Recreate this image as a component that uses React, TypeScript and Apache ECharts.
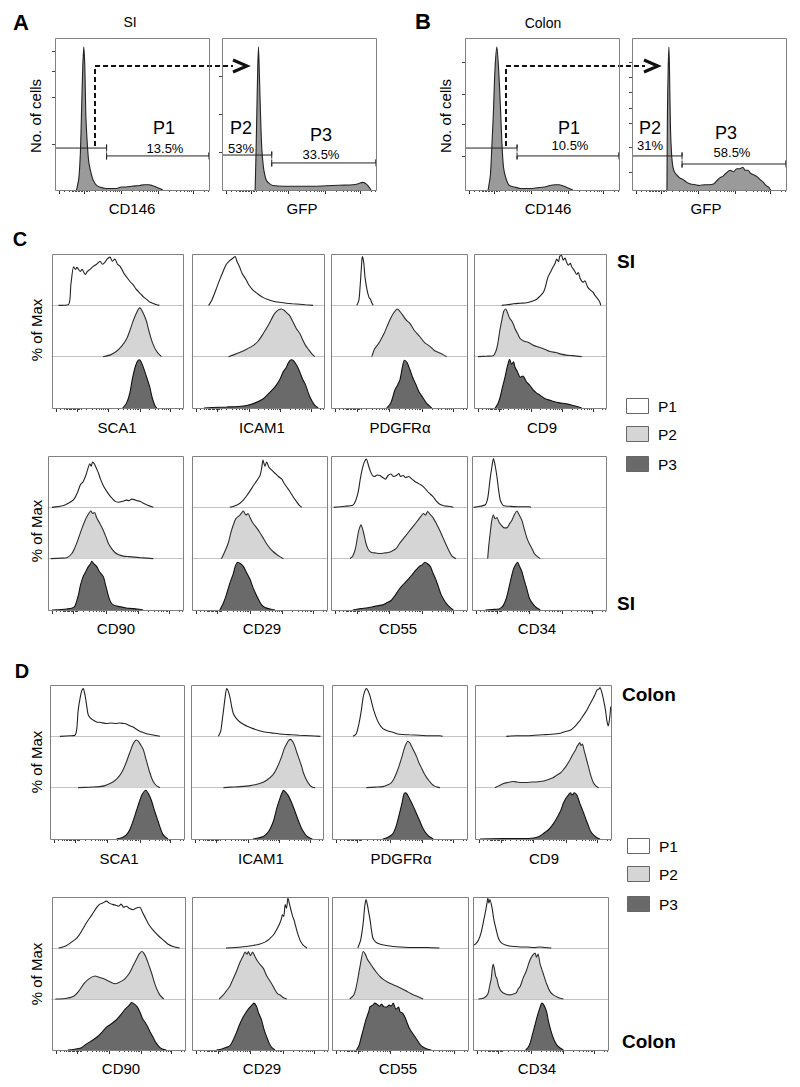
import React, { useEffect, useRef } from "react";
import * as echarts from "echarts";

type Pt = [number, number];

// ---------- Panel A / B histograms (x: % of axis, y: % of max count) ----------
const siCD146: Pt[] = [[14,0],[15.5,8],[16.5,25],[17.2,50],[18,80],[18.7,94],[19.4,80],[20,50],[21,30],[22,18],[23.7,10],[25,6],[27,3],[29,2],[33,1],[40,1],[43,2],[46,2],[50,2.5],[55,3],[58,3.5],[61,3.5],[63,3],[65.6,2],[68,1],[70,0]];
const siGFP: Pt[] = [[21.5,0],[22,20],[22.6,50],[23.2,80],[23.7,94],[24.3,75],[25,50],[25.8,28],[26.9,15],[28,9],[29,6],[31,4],[33,3],[40,2.5],[50,2.5],[60,2.5],[72,3],[80,3.2],[85,3.5],[88,4],[91.4,5],[93,4.5],[94.6,3],[96.8,0]];
const colonCD146: Pt[] = [[15,0],[16.5,10],[17.5,30],[18.4,50],[19.5,80],[20.7,94],[21.8,80],[23,55],[24,30],[25,15],[26.5,8],[28.7,3],[32,2],[36,1],[42.5,1],[47,1.5],[51.7,2],[55,3],[58.6,3.5],[61,3.5],[63,3],[65.5,2],[67.8,1],[70,0]];
const colonGFP: Pt[] = [[22.7,0],[23,50],[23.5,80],[24,94],[24.5,70],[25,40],[25.8,22],[26.6,15],[27.5,12],[29,10],[31,8],[33,7],[35.6,5],[38,4],[41,3.5],[44,3],[47,3.5],[50,3.5],[53,4],[55,6],[57,8],[59,9],[61,11],[63.7,13],[66,12],[68,14],[70,14],[72,15],[73.5,13],[75.4,13],[77,11],[79,10],[81,9],[83,7],[85.3,5],[87,3],[88.6,2],[90,0]];

// gates: [from %, to %, height %]
const gatesSiCD146 = [[0, 33.5, 27.6], [33.5, 100, 22.4]];
const gatesSiGFP = [[0, 32.3, 23], [32.3, 100, 17.8]];
const gatesColonCD146 = [[0, 33.8, 27.6], [33.8, 100, 22.4]];
const gatesColonGFP = [[0, 32.5, 22.4], [32.5, 100, 17.1]];

const yTicksA1 = [30, 61, 78, 91];
const yTicksA2 = [25, 50, 75];
const yTicksB1 = [22, 43, 63, 84];
const yTicksB2 = [12, 28, 44, 54, 64, 74, 84];

// ---------- Panel C (SI) ----------
const siSCA1P1: Pt[] = [[5,0],[12.7,2],[14.4,40],[16.5,75],[18,70],[19,74],[21.5,66],[23,70],[25.3,60],[27,66],[29,70],[31,75],[34,80],[36.7,86],[38.5,80],[40.5,84],[42,90],[44.3,94],[46,86],[48,90],[50,80],[52,76],[55,62],[57,55],[60,45],[62,40],[64,32],[67,24],[70,16],[72,12],[75,6],[77,4],[80,1],[82,0]];
const siSCA1P2: Pt[] = [[39,0],[45,4],[49,10],[53,20],[57,35],[60,55],[62,70],[65,88],[67,95],[69,88],[72,70],[74,50],[77,25],[80,10],[83.5,0]];
const siSCA1P3: Pt[] = [[54,0],[57,10],[59.5,30],[61,52],[63,75],[65,90],[66.6,94],[68,90],[69.6,80],[72,62],[74.7,40],[76.5,20],[78.5,5],[80,0]];
const siICAM1P1: Pt[] = [[12.6,0],[15,10],[18.8,35],[21,50],[23.9,68],[26,80],[29,88],[31,92],[32.7,95],[34,86],[36,75],[38,62],[41,50],[43,40],[46,30],[50,22],[54,15],[58,11],[61.6,8],[66,6],[71.6,4],[76,3],[81.7,2],[86,1],[91.7,0]];
const siICAM1P2: Pt[] = [[27.6,0],[32,4],[36,8],[41,14],[46.5,22],[50,30],[54,45],[58,62],[61.6,80],[64,88],[66,92],[67.8,93],[70,90],[72,85],[74,80],[77,65],[79,55],[81.7,45],[84,32],[86,22],[88,15],[91,5],[93,0]];
const siICAM1P3: Pt[] = [[9,0],[15,1],[26,2],[35,3],[41.5,5],[48,10],[54,18],[58,28],[61,36],[64,45],[67,58],[69,70],[71.6,80],[73,88],[75,94],[77,92],[80,80],[82,68],[84,55],[86,45],[88,30],[90,18],[91.7,10],[93.5,4],[95.5,0]];
const siPDGFRaP1: Pt[] = [[19,0],[20.5,10],[21.5,40],[22.5,80],[23,95],[24,85],[25,55],[26.5,30],[28,15],[29,12],[30,5],[31,0]];
const siPDGFRaP2: Pt[] = [[30,0],[32,15],[34,22],[36,30],[39,45],[43,70],[46,85],[49,93],[50.7,88],[53,80],[55,72],[58,65],[61,52],[65,40],[69,27],[72.8,20],[76,12],[80,7],[83,3],[85,0]];
const siPDGFRaP3: Pt[] = [[41,0],[44,10],[47,35],[49,45],[50.7,55],[52.5,80],[54,93],[56,88],[58,75],[60,60],[63,42],[65,30],[67.6,20],[70,10],[72,5],[74,0]];
const siCD9P1: Pt[] = [[21,0],[25,1],[30,3],[35,4],[40,5],[44,8],[47.5,12],[50,18],[52.5,25],[54,35],[56,55],[58,65],[60,75],[61.5,82],[62.6,90],[64,85],[65,96],[66.4,97],[67.5,88],[69,92],[70,85],[71.5,78],[73,82],[74,75],[76,68],[77.8,60],[79,64],[80.5,52],[82.8,45],[84,48],[86,36],[88,30],[90,26],[91.5,20],[93,15],[94.5,10],[95.5,5],[96,0]];
const siCD9P2: Pt[] = [[3,0],[10,1],[14.6,2],[16.5,10],[18,25],[19.5,50],[21,70],[22.5,88],[24,93],[25.5,85],[27,75],[28.5,70],[30,62],[31,55],[33,45],[35,35],[38,30],[41,28],[45,22],[50,18],[54,14],[57.6,10],[62,8],[66,5],[70,3],[75,2],[81.6,0]];
const siCD9P3: Pt[] = [[16,0],[18,8],[19.7,20],[21.5,40],[23.5,60],[25,78],[26,88],[27,95],[28.5,85],[30,90],[31,80],[33,70],[35,60],[37,62],[40,50],[42,45],[45,35],[47,30],[50,25],[54,18],[57.6,15],[61,12],[65,10],[70,8],[75,5],[78,3],[81.6,0]];
const siCD90P1: Pt[] = [[3,0],[11,3],[15,8],[19,15],[22,30],[24,44],[26,50],[28,62],[29.5,75],[31,85],[32,80],[33,88],[34.5,84],[36,75],[37.5,66],[38.6,57],[41,42],[43.5,31],[46,22],[49.6,12],[52,10],[55.8,12],[58,14],[60,13],[62,16],[64,15],[66,13],[68,12],[70,9],[73,5],[76,2],[78,0]];
const siCD90P2: Pt[] = [[2,0],[10,1],[14,2],[17.7,10],[20,22],[22.6,40],[25,58],[27.5,75],[29.5,85],[31.7,93],[33,88],[34.5,90],[36,80],[38.5,68],[41,55],[43,42],[44.7,30],[47,20],[49.6,12],[52,8],[55.8,5],[60,4],[64,3],[68,2],[73,1],[78,0]];
const siCD90P3: Pt[] = [[3,0],[10,1],[14,2],[18,4],[20,8],[22.6,30],[24,48],[26,65],[28,75],[30,85],[31.5,90],[32.4,95],[34,90],[36,85],[38,75],[41,65],[42.5,50],[43.5,40],[45,25],[46.5,15],[48.4,10],[52,7],[58,4],[62,3],[66,2],[70.5,0]];
const siCD29P1: Pt[] = [[28,0],[32,3],[35.5,8],[38,14],[40.4,22],[43,32],[45.4,42],[48,52],[50.4,62],[51.5,75],[52.6,92],[54,80],[55.3,88],[57,78],[58.5,74],[60,70],[62,65],[64,60],[66.5,55],[68,48],[70,40],[72.7,30],[75,20],[77.7,10],[79.5,4],[81.4,0]];
const siCD29P2: Pt[] = [[21.8,0],[24,12],[26.8,30],[28.5,48],[30.5,65],[32.5,78],[35.5,85],[37,90],[38,93],[40,85],[41.5,88],[43,80],[45,70],[47.9,60],[50,52],[52.8,40],[55,30],[57.8,20],[60,14],[62.8,8],[65,4],[67.7,0]];
const siCD29P3: Pt[] = [[20.6,0],[23,12],[25.5,30],[28,52],[30.5,70],[32,85],[34,93],[36,90],[38,85],[40,75],[43,60],[45,45],[46.6,35],[49,22],[51.6,10],[54,5],[57.8,2],[61.5,0]];
const siCD55P1: Pt[] = [[2,0],[10,2],[16,4],[18,12],[20,30],[21.5,55],[23,75],[24.5,88],[26,94],[27.5,82],[29,70],[30.5,62],[32,60],[34,63],[36,62],[38,58],[40,55],[42,62],[44,65],[46,60],[48,62],[50,66],[51,60],[53,62],[55,58],[57,60],[60,54],[62,50],[64,47],[66,44],[68,40],[70,34],[72,28],[75,21],[77.5,12],[80,6],[83,3],[86,2],[90,0]];
const siCD55P2: Pt[] = [[14,0],[16,5],[18,20],[20,50],[21,60],[22,66],[23,60],[24,50],[25.5,32],[27,20],[28.5,14],[30,12],[33,11],[36,10],[39,11],[42,12],[45,15],[48,20],[50,28],[52,35],[55,45],[58,55],[61,65],[64,75],[66,82],[68,88],[69.5,85],[71,92],[73,86],[75,80],[77.5,68],[80,55],[82.5,40],[85,25],[87,14],[89,5],[92,0]];
const siCD55P3: Pt[] = [[16,0],[22,3],[26,4],[30,6],[34,8],[38,10],[41,14],[44,18],[47,28],[50,40],[52.5,48],[55,55],[57.5,62],[60,70],[62.5,78],[65,85],[67,88],[69,93],[71,90],[73,85],[75,72],[77,60],[79,45],[81,30],[83,20],[85,12],[87.5,5],[90,0]];
const siCD34P1: Pt[] = [[1.2,0],[6,2],[10,5],[11.5,15],[12.4,30],[13.5,55],[14.9,80],[16,95],[17,85],[18.6,60],[19.8,35],[21,15],[22.3,7],[23.6,3],[28,2],[35,1],[43,1],[44,0]];
const siCD34P2: Pt[] = [[11.7,0],[12.5,25],[13.6,50],[14.8,75],[16,85],[17.2,78],[18.6,80],[20,72],[22,65],[24,60],[26,60],[28,68],[29.8,75],[31.5,85],[33.5,93],[35.3,85],[37.2,75],[39,58],[41,40],[43,28],[44.7,20],[46.5,10],[48.4,5],[51,0]];
const siCD34P3: Pt[] = [[10,0],[15,1],[20,2],[22,5],[23.6,10],[25.5,22],[27.3,40],[29,60],[31,80],[32.5,88],[34,93],[35.5,85],[37.2,75],[39,58],[41,40],[43,22],[46,10],[48.5,4],[51,0]];

// ---------- Panel D (Colon) ----------
const coSCA1P1: Pt[] = [[7.4,0],[15,1],[18.6,2],[20,15],[21,50],[22.3,72],[23.6,88],[24.8,93],[26,82],[26.8,70],[27.8,52],[28.5,42],[30,36],[32,32],[34.7,28],[38,27],[42,25],[46,26],[49,25],[52,26],[55,25],[57,24],[60,20],[62,18],[65,13],[67,10],[70,7],[72,5],[76,3],[82,0]];
const coSCA1P2: Pt[] = [[21,0],[30,1],[37,2],[41,4],[44.7,8],[48,13],[50.9,20],[54,32],[57,50],[59.5,68],[62,85],[63.5,91],[64.5,93],[66,90],[67.5,84],[69.5,75],[72,52],[74.4,30],[76,18],[78,8],[80,3],[82,0]];
const coSCA1P3: Pt[] = [[49.6,0],[54,3],[57,8],[59.5,18],[62,35],[64.5,55],[67,75],[69,88],[71.5,95],[73.5,88],[75.7,75],[78,55],[80.6,35],[82.5,20],[84,10],[86,4],[88,0]];
const coICAM1P1: Pt[] = [[20.8,0],[22.5,10],[23.6,30],[24.6,50],[25.8,75],[27,93],[28.2,88],[29.6,75],[30.8,58],[32,45],[34,36],[37,28],[40,23],[43,19],[47,15],[52,11],[57,8],[63,6],[70,4],[76,3],[82,2],[90,1],[98,0]];
const coICAM1P2: Pt[] = [[24.6,0],[30,1],[37,2],[45,4],[52,8],[57,14],[62,25],[65,38],[68.6,60],[70.5,75],[72.4,85],[74,92],[75.4,94],[77,90],[78.5,82],[80,70],[82,55],[84,40],[85,30],[87.5,15],[90,5],[92,1],[94,0]];
const coICAM1P3: Pt[] = [[47,0],[51,2],[54.8,5],[58,12],[60,20],[62.5,35],[65,60],[67.5,80],[69,90],[70,95],[71.5,92],[73.6,85],[76,72],[78.6,55],[81,38],[83,25],[85,15],[87.5,6],[90,2],[92,0]];
const coPDGFRaP1: Pt[] = [[15.6,0],[18,5],[20,25],[21.7,50],[23,75],[24.3,88],[25.4,93],[26.5,90],[28,80],[29,70],[31,50],[33,35],[35,24],[37.7,15],[41,11],[45,8],[50,4],[57,3],[65,2],[72,1],[80,1],[82,0]];
const coPDGFRaP2: Pt[] = [[25.4,0],[32,1],[37.7,2],[41,5],[44,10],[46,18],[48,30],[50,45],[52,62],[54,80],[55,86],[56,90],[57.5,88],[59,80],[61,70],[62.7,60],[64.5,48],[66,40],[68,29],[70,20],[72,13],[74,7],[76,3],[78,1],[80,0]];
const coPDGFRaP3: Pt[] = [[37.7,0],[41,3],[45,10],[47.5,25],[50,50],[52,72],[53,85],[54,90],[55.5,88],[57.5,78],[60,65],[62.5,50],[65,35],[67.5,20],[70,10],[72.5,4],[75,0]];
const coCD9P1: Pt[] = [[23,0],[30,1],[38,1],[44,2],[50,3],[56,4],[62.6,6],[66,9],[70,12],[73,18],[75,24],[77,30],[79.5,40],[82,50],[84,60],[86,70],[88,80],[89.7,90],[91,92],[92,95],[93,88],[94.6,70],[96,50],[97,30],[98,20],[99,35],[99.8,58]];
const coCD9P2: Pt[] = [[14.7,0],[17,3],[20.9,8],[24,10],[28,12],[31,11],[34,10],[38,10],[42,11],[45,11],[48,12],[52,14],[55,17],[57.7,20],[60,24],[63,29],[65,35],[67,42],[70,55],[72,65],[74,74],[75,80],[76,84],[77,88],[78,82],[79,85],[80,75],[81.5,60],[83.5,40],[85,25],[87,10],[89,3],[91,0]];
const coCD9P3: Pt[] = [[3.7,0],[20,1],[35,1],[43,2],[47,5],[50,10],[54,18],[57.7,30],[61,45],[63,55],[65,70],[67,80],[68.5,85],[70,90],[71.5,86],[73,90],[75,85],[77,70],[78.5,60],[80,50],[82,35],[83.5,25],[85,15],[87.5,7],[90,2],[92,0]];
const coCD90P1: Pt[] = [[5,0],[8,2],[11,5],[15,12],[18.8,20],[22,32],[26,50],[30,65],[33.8,80],[36,86],[38,88],[41,92],[43,88],[46,85],[48,84],[50,82],[52,86],[53.8,80],[56,82],[58,78],[61,75],[63,78],[66,80],[68,70],[71,55],[73,45],[76,35],[80,24],[84,15],[87,8],[91,3],[96,0]];
const coCD90P2: Pt[] = [[2.5,0],[10,1],[16,5],[20,15],[24,30],[28,40],[32.5,45],[35,43],[38.7,40],[42,36],[45,32],[47.5,30],[50,32],[53,36],[55,40],[58,50],[61,65],[63.5,78],[65.5,88],[67.5,93],[69,90],[71,80],[73,65],[75,50],[77,32],[78.7,20],[81,8],[84,0]];
const coCD90P3: Pt[] = [[12,0],[16,1],[20,3],[22.5,5],[26,12],[31,20],[35,28],[38,36],[41,45],[45,52],[48.7,60],[52,70],[55,80],[57.5,86],[60,93],[62,90],[64,85],[66,75],[68,62],[71,50],[73.5,37],[76,25],[78,15],[81,5],[83,2],[86,0]];
const coCD29P1: Pt[] = [[25,0],[32,1],[40,3],[45,5],[50,8],[54,12],[57,18],[60,26],[62,35],[64,45],[65.5,55],[66.5,65],[67.5,62],[68.5,85],[69.5,78],[70.5,98],[71.5,88],[72.7,75],[74,62],[75,55],[76,45],[77.5,30],[79.5,15],[81.5,6],[84.5,0]];
const coCD29P2: Pt[] = [[20,0],[23,8],[25,15],[27.8,25],[30,38],[32.8,55],[35,70],[37.7,85],[39,92],[40.5,88],[41.4,93],[43,85],[44.5,92],[46,85],[48,75],[50,68],[52.5,60],[55,45],[58.6,30],[61,18],[63,10],[64.8,8],[67,3],[69.7,0]];
const coCD29P3: Pt[] = [[18,0],[22,2],[25,5],[27.8,8],[30,18],[32.8,35],[35,50],[37.7,65],[40,75],[42,82],[44,88],[45.5,92],[47.5,85],[49,72],[51,60],[53,40],[55,25],[57,12],[58.6,5],[61,0]];
const coCD55P1: Pt[] = [[19,0],[21,15],[22,30],[23,50],[24,80],[25,95],[26,85],[27,70],[28,55],[29,35],[30,20],[32,12],[35,8],[40,5],[45,3],[50,2],[60,1],[70,1],[79,0]];
const coCD55P2: Pt[] = [[13,0],[16,8],[17.5,20],[19,40],[21,70],[23,93],[24.5,88],[26,78],[28,70],[30,62],[32.5,53],[35,45],[38,38],[41,33],[45,28],[50,22],[55,15],[60,8],[63,5],[67,0]];
const coCD55P3: Pt[] = [[18,0],[20,10],[21.5,25],[23,40],[25,60],[27,75],[28,85],[30,88],[31.5,92],[33,90],[35,86],[36.5,90],[38,85],[40,84],[42,88],[43.5,86],[45,92],[47,80],[49,84],[50,75],[52,72],[53.5,65],[55,55],[57,42],[60,30],[62.5,20],[65,10],[67.5,5],[70,2],[73,0]];
const coCD34P1: Pt[] = [[0,5],[2,8],[4,15],[6,30],[8,55],[9.5,75],[10.5,90],[11,98],[11.8,88],[12.5,95],[14,80],[15.5,55],[17.7,30],[19,18],[21,10],[24,6],[27,4],[30,3],[35,2],[40,2],[45,1],[49.6,2],[53,1],[58,0]];
const coCD34P2: Pt[] = [[4,0],[8,2],[11,10],[12.3,25],[13.5,40],[14.3,60],[15,68],[15.8,60],[16.8,45],[17.7,40],[19,25],[21,15],[24,10],[27.5,8],[30,10],[32,12],[33.5,20],[35,25],[37,40],[39.5,55],[42,75],[44,85],[46,90],[47,82],[48.2,88],[49.6,70],[52,50],[54.5,30],[57,15],[59.5,8],[63,3],[67,0]];
const coCD34P3: Pt[] = [[39,0],[41,6],[42.5,15],[44,30],[46,50],[48,70],[49.5,82],[51,92],[52.5,88],[54.5,75],[56,55],[58,35],[60,20],[62,10],[64.5,4],[67,0]];

// ---------- labels & ticks ----------
const markersTop = ["SCA1", "ICAM1", "PDGFRα", "CD9"];
const markersBottom = ["CD90", "CD29", "CD55", "CD34"];
const populations = ["P1", "P2", "P3"];
const majorTicks = [3, 19, 43, 67, 90];
const minorTicks = [6, 9, 11, 12, 13, 14, 15, 16, 17, 18, 20, 21, 22, 26.2, 30.5, 33.4, 35.8, 37.7, 39.3, 40.7, 41.9, 50.2, 54.5, 57.4, 59.8, 61.7, 63.3, 64.7, 65.9, 74.2, 78.5, 81.4, 83.8, 85.7, 87.3, 88.7, 97.2, 99.5];

const FONT = "'Liberation Sans', Arial, Helvetica, sans-serif";
const LINE = ["#222222", "#2e2e2e", "#111111"];
const FILL = [null, "#d5d5d5", "#6a6a6a"];

function buildOption() {
  const grid: any[] = [];
  const xAxis: any[] = [];
  const yAxis: any[] = [];
  const series: any[] = [];
  const graphic: any[] = [];

  const addGrid = (left: number, top: number, width: number, height: number, o: { divider?: boolean; bottomTicks?: boolean; yTicks?: number[] }) => {
    const gi = grid.length;
    grid.push({ left, top, width, height, show: false });
    xAxis.push({
      type: "value", gridIndex: gi, min: 0, max: 100, position: "bottom",
      axisLine: { show: !!o.divider, onZero: false, lineStyle: { color: "#c4c4c4", width: 1 } },
      axisTick: o.bottomTicks ? { show: true, inside: false, length: 2, customValues: minorTicks, lineStyle: { color: "#444", width: 1 } } : { show: false },
      axisLabel: { show: false }, splitLine: { show: false },
    });
    const xi = xAxis.length - 1;
    if (o.bottomTicks) {
      xAxis.push({
        type: "value", gridIndex: gi, min: 0, max: 100, position: "bottom",
        axisLine: { show: false, onZero: false },
        axisTick: { show: true, inside: false, length: 4, customValues: majorTicks, lineStyle: { color: "#333", width: 1 } },
        axisLabel: { show: false }, splitLine: { show: false },
      });
    }
    yAxis.push({
      type: "value", gridIndex: gi, min: 0, max: 100, position: "left",
      axisLine: { show: false },
      axisTick: o.yTicks ? { show: true, inside: false, length: 3, customValues: o.yTicks, lineStyle: { color: "#444", width: 1 } } : { show: false },
      axisLabel: { show: false }, splitLine: { show: false },
    });
    return { xi, yi: yAxis.length - 1 };
  };

  const curve = (name: string, data: Pt[], xi: number, yi: number, line: string, fill: string | null) => {
    const s: any = {
      type: "line", name, xAxisIndex: xi, yAxisIndex: yi, data, symbol: "none", showSymbol: false,
      smooth: 0.25, silent: true, clip: false, z: 3,
      lineStyle: { color: line, width: 1.1 },
    };
    if (fill) s.areaStyle = { color: fill, opacity: 1 };
    series.push(s);
  };

  const frame = (left: number, top: number, width: number, height: number) => {
    graphic.push({ type: "rect", z: 100, silent: true, shape: { x: left + 0.5, y: top + 0.5, width, height }, style: { fill: "none", stroke: "#808080", lineWidth: 1 } });
  };

  const text = (t: string, x: number, y: number, size: number, o: { bold?: boolean; align?: string; rot?: number } = {}) => {
    graphic.push({
      type: "text", x, y, rotation: o.rot || 0, z: 100, silent: true,
      style: { text: t, fill: "#000", fontSize: size, fontFamily: FONT, fontWeight: o.bold ? "bold" : "normal", align: o.align || "center", verticalAlign: "middle" },
    });
  };

  // ---- Panel A / B ----
  const abBoxes = [
    { left: 55, data: siCD146, gates: gatesSiCD146, yTicks: yTicksA1 },
    { left: 222, data: siGFP, gates: gatesSiGFP, yTicks: yTicksA2 },
    { left: 465, data: colonCD146, gates: gatesColonCD146, yTicks: yTicksB1 },
    { left: 632, data: colonGFP, gates: gatesColonGFP, yTicks: yTicksB2 },
  ];
  abBoxes.forEach((b) => {
    const { xi, yi } = addGrid(b.left, 38, 154, 152, { bottomTicks: true, yTicks: b.yTicks });
    curve("hist", b.data, xi, yi, "#222", "#9a9a9a");
    b.gates.forEach((g, k) => {
      const c = 2.3;
      const pts: any[] = [];
      if (k > 0) pts.push([g[0], g[2] + c], [g[0], g[2] - c]);
      pts.push([g[0], g[2]], [g[1], g[2]], [g[1], g[2] + c], [g[1], g[2] - c]);
      series.push({ type: "line", xAxisIndex: xi, yAxisIndex: yi, data: pts, symbol: "none", silent: true, clip: false, z: 5, lineStyle: { color: "#222", width: 1 } });
    });
    frame(b.left, 38, 154, 152);
  });

  text("A", 21, 22, 22, { bold: true });
  text("B", 423, 21, 22, { bold: true });
  text("SI", 130, 22, 14);
  text("Colon", 543, 23, 14);
  text("No. of cells", 35, 116, 15, { rot: Math.PI / 2 });
  text("No. of cells", 445, 116, 15, { rot: Math.PI / 2 });
  text("CD146", 132, 208, 15);
  text("GFP", 302, 208, 15);
  text("CD146", 548, 208, 15);
  text("GFP", 706, 208, 15);
  text("P1", 164, 128, 18);
  text("13.5%", 165, 148, 13);
  text("P2", 241, 128, 18);
  text("53%", 241, 148, 13);
  text("P3", 321, 135, 18);
  text("33.5%", 321, 154, 13);
  text("P1", 569, 128, 18);
  text("10.5%", 570, 145, 13);
  text("P2", 650, 128, 18);
  text("31%", 650, 145, 13);
  text("P3", 726, 133, 18);
  text("58.5%", 732, 152, 13);

  // dashed gating arrows
  const arrow = (x0: number, xEnd: number, tip: number) => {
    graphic.push({ type: "polyline", z: 90, silent: true, shape: { points: [[x0, 146], [x0, 66], [xEnd, 66]] }, style: { stroke: "#111", lineWidth: 2, lineDash: [5, 3], fill: "none" } });
    graphic.push({ type: "polyline", z: 90, silent: true, shape: { points: [[tip - 14, 60], [tip, 66], [tip - 14, 72]] }, style: { stroke: "#111", lineWidth: 3, fill: "none" } });
  };
  arrow(95, 233, 247);
  arrow(506, 645, 658);

  // ---- Panels C / D ----
  const siSets = [
    [siSCA1P1, siSCA1P2, siSCA1P3], [siICAM1P1, siICAM1P2, siICAM1P3], [siPDGFRaP1, siPDGFRaP2, siPDGFRaP3], [siCD9P1, siCD9P2, siCD9P3],
    [siCD90P1, siCD90P2, siCD90P3], [siCD29P1, siCD29P2, siCD29P3], [siCD55P1, siCD55P2, siCD55P3], [siCD34P1, siCD34P2, siCD34P3],
  ];
  const coSets = [
    [coSCA1P1, coSCA1P2, coSCA1P3], [coICAM1P1, coICAM1P2, coICAM1P3], [coPDGFRaP1, coPDGFRaP2, coPDGFRaP3], [coCD9P1, coCD9P2, coCD9P3],
    [coCD90P1, coCD90P2, coCD90P3], [coCD29P1, coCD29P2, coCD29P3], [coCD55P1, coCD55P2, coCD55P3], [coCD34P1, coCD34P2, coCD34P3],
  ];
  const rows = [
    { sets: siSets.slice(0, 4), names: markersTop, top: 254, h: 154, boxes: [[52, 131], [192, 132], [331, 136], [474, 132]], labelY: 427, labelX: [117, 262, 400, 542], yLab: 330 },
    { sets: siSets.slice(4, 8), names: markersBottom, top: 456, h: 154, boxes: [[48, 135], [192, 135], [331, 136], [472, 134]], labelY: 628, labelX: [116, 262, 398, 537], yLab: 531 },
    { sets: coSets.slice(0, 4), names: markersTop, top: 685, h: 154, boxes: [[50, 134], [191, 132], [332, 135], [475, 136]], labelY: 858, labelX: [119, 261, 401, 544], yLab: 762 },
    { sets: coSets.slice(4, 8), names: markersBottom, top: 897, h: 153, boxes: [[52, 133], [192, 136], [332, 136], [473, 135]], labelY: 1068, labelX: [121, 262, 398, 537], yLab: 974 },
  ];
  rows.forEach((r) => {
    r.boxes.forEach((bx, i) => {
      const laneH = r.h / 3;
      for (let k = 0; k < 3; k++) {
        const { xi, yi } = addGrid(bx[0], r.top + k * laneH, bx[1], laneH, { divider: k < 2, bottomTicks: k === 2 });
        curve(populations[k], r.sets[i][k], xi, yi, LINE[k], FILL[k]);
      }
      frame(bx[0], r.top, bx[1], r.h);
      text(r.names[i], r.labelX[i], r.labelY, 15);
    });
    text("% of Max", 36, r.yLab, 15, { rot: Math.PI / 2 });
  });

  text("C", 20, 239, 20, { bold: true });
  text("D", 22, 671, 20, { bold: true });
  text("SI", 617, 261, 19, { bold: true, align: "left" });
  text("SI", 617, 603, 19, { bold: true, align: "left" });
  text("Colon", 622, 694, 19, { bold: true, align: "left" });
  text("Colon", 622, 1041, 19, { bold: true, align: "left" });

  const legend = (x: number, ys: number[]) => {
    const fills = ["#ffffff", "#d5d5d5", "#6a6a6a"];
    ys.forEach((y, k) => {
      graphic.push({ type: "rect", z: 100, silent: true, shape: { x: x + 0.5, y: y + 0.5, width: 22, height: 15 }, style: { fill: fills[k], stroke: "#666", lineWidth: 1 } });
      text(populations[k], x + 32, y + 8, 15.5, { align: "left" });
    });
  };
  legend(626, [398, 426, 456]);
  legend(627, [838, 866, 896]);

  return { animation: false, backgroundColor: "#ffffff", grid, xAxis, yAxis, series, graphic };
}

export default function App() {
  const ref = useRef<HTMLDivElement>(null);
  useEffect(() => {
    if (!ref.current) return;
    const chart = echarts.init(ref.current, null, { renderer: "svg" });
    chart.setOption(buildOption() as any);
    return () => chart.dispose();
  }, []);
  return <div ref={ref} style={{ position: "fixed", left: 0, top: 0, width: 800, height: 1087, background: "#fff" }} />;
}
